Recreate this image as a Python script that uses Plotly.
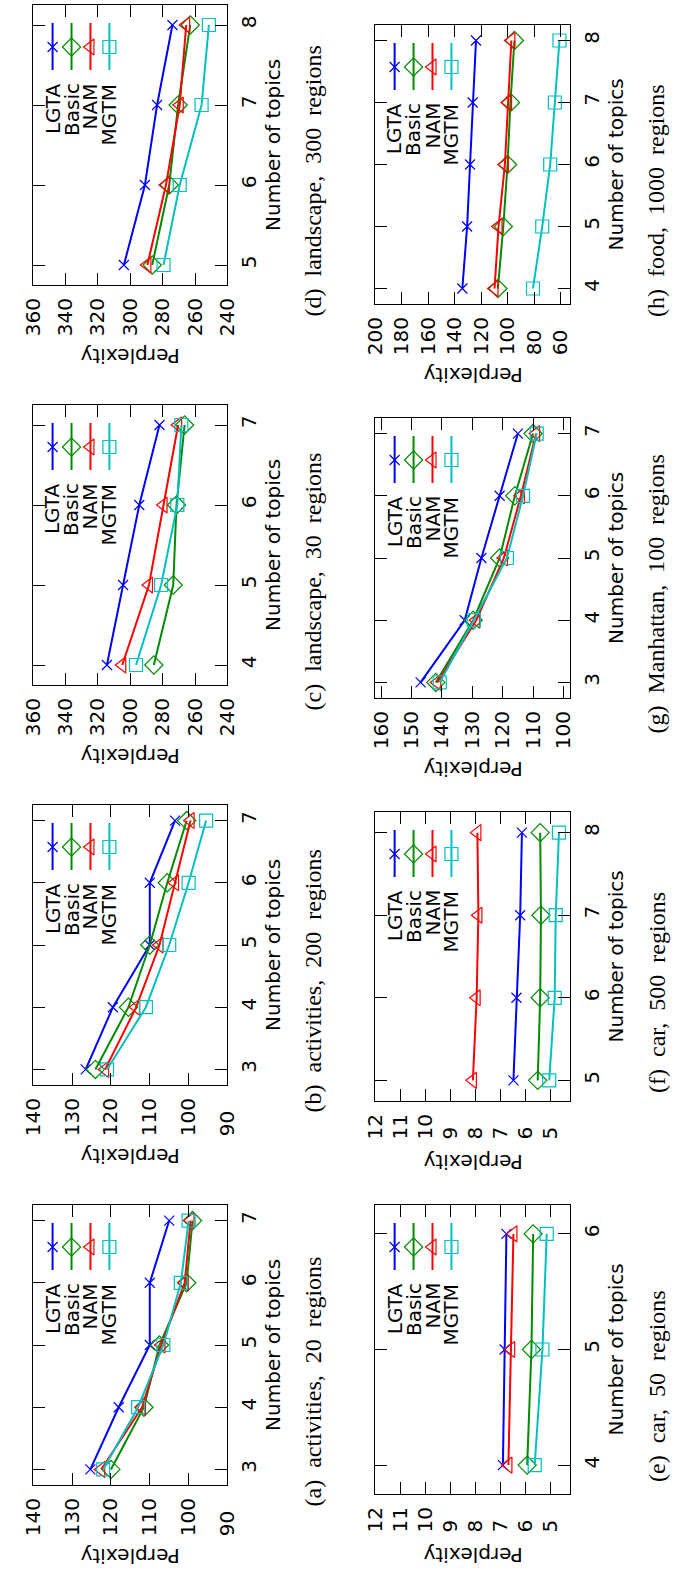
import plotly.graph_objects as go

W, H = 681, 1572
SANS = "DejaVu Sans"
SERIF = "Liberation Serif"

# ---------------- data ----------------
series_names = ["LGTA", "Basic", "NAM", "MGTM"]
colors = ["#0000ff", "#008b00", "#ff0000", "#00c0c0"]
symbols = ["x-thin", "diamond-open", "triangle-left-open", "square-open"]
msizes = [10, 14, 14, 13]

# (a) activities, 20 regions
topics_a = [3, 4, 5, 6, 7]
lgta_a = [125.3, 118, 110, 110, 105]
basic_a = [120, 111.5, 107.5, 100.5, 99]
nam_a = [122.5, 112, 107, 101, 99.5]
mgtm_a = [122, 113, 106.5, 102, 100]

# (b) activities, 200 regions
topics_b = [3, 4, 5, 6, 7]
lgta_b = [126.5, 119.5, 110, 110, 103.5]
basic_b = [124, 115.5, 110, 105.5, 100.5]
nam_b = [121.5, 113.5, 107.5, 103.5, 99.5]
mgtm_b = [121, 111, 105, 100, 95.5]

# (c) landscape, 30 regions
topics_c = [4, 5, 6, 7]
lgta_c = [314.5, 304.5, 294.5, 282]
basic_c = [285.5, 273.5, 271.5, 266.5]
nam_c = [305, 288.5, 279.5, 270.5]
mgtm_c = [296.5, 281, 271, 268.5]

# (d) landscape, 300 regions
topics_d = [5, 6, 7, 8]
lgta_d = [304, 291, 283.5, 274]
basic_d = [286.5, 276, 270.5, 263]
nam_d = [289.5, 278, 269.5, 265.5]
mgtm_d = [279.5, 269.5, 256, 251.5]

# (e) car, 50 regions
topics_e = [4, 5, 6]
lgta_e = [6.9, 6.83, 6.76]
basic_e = [5.93, 5.76, 5.69]
nam_e = [6.68, 6.57, 6.48]
mgtm_e = [5.63, 5.32, 5.15]

# (f) car, 500 regions
topics_f = [5, 6, 7, 8]
lgta_f = [6.48, 6.36, 6.21, 6.14]
basic_f = [5.51, 5.41, 5.38, 5.41]
nam_f = [8.1, 7.95, 7.88, 7.92]
mgtm_f = [5.05, 4.83, 4.79, 4.66]

# (g) Manhattan, 100 regions
topics_g = [3, 4, 5, 6, 7]
lgta_g = [147, 132.5, 127, 121, 115]
basic_g = [142, 129.7, 121, 116, 110]
nam_g = [141.5, 128.7, 119.6, 114, 109]
mgtm_g = [140.7, 129.5, 118.6, 113.3, 108.8]

# (h) food, 1000 regions
topics_h = [4, 5, 6, 7, 8]
lgta_h = [134.3, 130.7, 128.5, 126.5, 124]
basic_h = [107.5, 103.4, 100.2, 98, 95]
nam_h = [110, 107, 102.2, 99.8, 97.3]
mgtm_h = [81, 74, 68, 64.5, 61]

ticks_act = [140, 130, 120, 110, 100, 90]
ticks_land = [360, 340, 320, 300, 280, 260, 240]
ticks_car = [12, 11, 10, 9, 8, 7, 6, 5]
ticks_man = [160, 150, 140, 130, 120, 110, 100]
ticks_food = [200, 180, 160, 140, 120, 100, 80, 60]

captions = ["(a) activities, 20 regions", "(b) activities, 200 regions",
            "(c) landscape, 30 regions", "(d) landscape, 300 regions",
            "(e) car, 50 regions", "(f) car, 500 regions",
            "(g) Manhattan, 100 regions", "(h) food, 1000 regions"]

# ---------------- layout (pixel frames) ----------------
panels = [
    dict(t=topics_a, v=[lgta_a, basic_a, nam_a, mgtm_a], xr=[140, 90], xt=ticks_act, fr=(22, 223, 1205, 1485)),
    dict(t=topics_b, v=[lgta_b, basic_b, nam_b, mgtm_b], xr=[140, 90], xt=ticks_act, fr=(22, 223, 805, 1085)),
    dict(t=topics_c, v=[lgta_c, basic_c, nam_c, mgtm_c], xr=[360, 240], xt=ticks_land, fr=(22, 223, 405, 685)),
    dict(t=topics_d, v=[lgta_d, basic_d, nam_d, mgtm_d], xr=[360, 240], xt=ticks_land, fr=(22, 223, 5, 285)),
    dict(t=topics_e, v=[lgta_e, basic_e, nam_e, mgtm_e], xr=[12, 4.2], xt=ticks_car, fr=(376, 578, 1205, 1494)),
    dict(t=topics_f, v=[lgta_f, basic_f, nam_f, mgtm_f], xr=[12, 4.2], xt=ticks_car, fr=(376, 578, 812, 1101)),
    dict(t=topics_g, v=[lgta_g, basic_g, nam_g, mgtm_g], xr=[161.9, 97.7], xt=ticks_man, fr=(376, 578, 418, 698)),
    dict(t=topics_h, v=[lgta_h, basic_h, nam_h, mgtm_h], xr=[200, 52.7], xt=ticks_food, fr=(376, 578, 25, 304)),
]

FS = 20
fig = go.Figure()
layout = dict(width=W, height=H, margin=dict(l=0, r=0, t=0, b=0),
              paper_bgcolor="white", plot_bgcolor="rgba(0,0,0,0)",
              showlegend=False, font=dict(family=SANS, size=FS, color="black"))
annotations = []


def px(x):
    return x / W


def py(y):
    return 1 - y / H


for i, p in enumerate(panels):
    k = i + 1
    x0, x1, y0, y1 = p["fr"]
    for s in range(4):
        fig.add_trace(go.Scatter(
            x=p["v"][s], y=p["t"], xaxis=f"x{k}", yaxis=f"y{k}",
            mode="lines+markers", cliponaxis=False,
            line=dict(color=colors[s], width=2),
            marker=dict(symbol=symbols[s], size=msizes[s], color=colors[s],
                        line=dict(color=colors[s], width=1.2)),
            name=series_names[s]))
    maxlen = max(len(str(t)) for t in p["xt"])
    ttext = [str(t) + "\u2007" * (maxlen - len(str(t))) for t in p["xt"]]
    tmin, tmax = min(p["t"]), max(p["t"])
    layout[f"xaxis{k}"] = dict(
        domain=[px(x0), px(x1)], anchor=f"y{k}", range=p["xr"],
        tickvals=p["xt"], ticktext=ttext, tickangle=-90, side="bottom",
        ticks="inside", ticklen=12, tickwidth=1, tickcolor="black",
        showline=True, linecolor="black", linewidth=1, mirror="ticks",
        showgrid=False, zeroline=False, ticklabelstandoff=4,
        tickfont=dict(family=SANS, size=FS, color="black"))
    layout[f"yaxis{k}"] = dict(
        domain=[py(y1), py(y0)], anchor=f"x{k}", range=[tmin - 0.25, tmax + 0.25],
        tickvals=p["t"], ticktext=[str(t) for t in p["t"]], tickangle=-90, side="right",
        ticks="inside", ticklen=12, tickwidth=1, tickcolor="black",
        showline=True, linecolor="black", linewidth=1, mirror="ticks",
        showgrid=False, zeroline=False, ticklabelstandoff=4,
        tickfont=dict(family=SANS, size=FS, color="black"))

    cx = (x0 + x1) / 2
    cy = (y0 + y1) / 2
    three = maxlen >= 3
    annotations.append(dict(text="Number of topics", x=px(x1 + 47), y=py(cy),
                            xref="paper", yref="paper", showarrow=False, textangle=-90,
                            xanchor="center", yanchor="middle",
                            font=dict(family=SANS, size=FS, color="black")))
    annotations.append(dict(text="Perplexity", x=px(cx), y=py(y1 + (71 if three else 61)),
                            xref="paper", yref="paper", showarrow=False, textangle=180,
                            xanchor="center", yanchor="middle",
                            font=dict(family=SANS, size=FS, color="black")))
    cap = captions[i].replace(" ", "\u2002")
    annotations.append(dict(text=cap, x=px(x1 + 89), y=py(cy + 36),
                            xref="paper", yref="paper", showarrow=False, textangle=-90,
                            xanchor="center", yanchor="middle",
                            font=dict(family=SERIF, size=24, color="black")))
    # legend labels
    for s in range(4):
        lx = x0 + 20 + 19.6 * s
        annotations.append(dict(text=series_names[s], x=px(lx), y=py(y0 + 76),
                                xref="paper", yref="paper", showarrow=False, textangle=-90,
                                xanchor="center", yanchor="top",
                                font=dict(family=SANS, size=FS, color="black")))

# legend samples on a pixel overlay axis
for s in range(4):
    lxs, lys, mxs, mys = [], [], [], []
    for p in panels:
        x0, x1, y0, y1 = p["fr"]
        lx = x0 + 20 + 19.6 * s
        lxs += [lx, lx, None]
        lys += [y0 + 18, y0 + 65, None]
        mxs.append(lx)
        mys.append(y0 + 42)
    fig.add_trace(go.Scatter(x=lxs, y=lys, xaxis="x9", yaxis="y9", mode="lines",
                             line=dict(color=colors[s], width=2), hoverinfo="skip"))
    fig.add_trace(go.Scatter(x=mxs, y=mys, xaxis="x9", yaxis="y9", mode="markers",
                             marker=dict(symbol=symbols[s], size=msizes[s], color=colors[s],
                                         line=dict(color=colors[s], width=1.2)),
                             hoverinfo="skip"))

layout["xaxis9"] = dict(domain=[0, 1], range=[0, W], visible=False, anchor="y9", fixedrange=True)
layout["yaxis9"] = dict(domain=[0, 1], range=[H, 0], visible=False, anchor="x9", fixedrange=True)
layout["annotations"] = annotations
fig.update_layout(**layout)
fig.write_html("out.html")
